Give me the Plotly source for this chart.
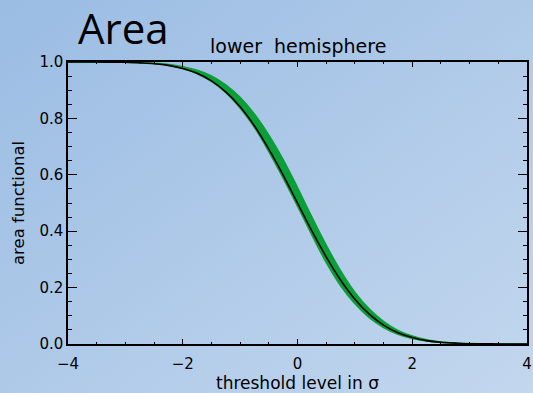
import base64
import plotly.graph_objects as go

# threshold levels (sigma)
x_vals = [-4.0, -3.75, -3.5, -3.25, -3.0, -2.75, -2.5, -2.25, -2.0, -1.75, -1.5, -1.25,
          -1.0, -0.75, -0.5, -0.25, 0.0, 0.25, 0.5, 0.75, 1.0, 1.25, 1.5, 1.75,
          2.0, 2.25, 2.5, 2.75, 3.0, 3.25, 3.5, 3.75, 4.0]
# black curve (theory)
black_y = [1.000, 1.000, 1.000, 0.999, 0.999, 0.997, 0.994, 0.988, 0.977, 0.960, 0.933, 0.894,
           0.841, 0.773, 0.691, 0.599, 0.500, 0.401, 0.309, 0.227, 0.159, 0.106, 0.067, 0.040,
           0.023, 0.012, 0.006, 0.003, 0.001, 0.001, 0.000, 0.000, 0.000]
# green band (simulations) upper / lower edges
green_hi = [1.000, 1.000, 1.000, 1.000, 0.999, 0.998, 0.996, 0.992, 0.984, 0.971, 0.951, 0.919,
            0.875, 0.816, 0.742, 0.655, 0.556, 0.452, 0.352, 0.261, 0.184, 0.125, 0.081, 0.049,
            0.029, 0.016, 0.008, 0.004, 0.002, 0.001, 0.000, 0.000, 0.000]
green_lo = [1.000, 1.000, 1.000, 0.999, 0.999, 0.997, 0.994, 0.988, 0.976, 0.958, 0.931, 0.891,
            0.836, 0.767, 0.681, 0.587, 0.488, 0.386, 0.288, 0.206, 0.142, 0.093, 0.058, 0.034,
            0.019, 0.010, 0.005, 0.002, 0.001, 0.000, 0.000, 0.000, 0.000]

x_ticks = [-4, -2, 0, 2, 4]
y_ticks = [0.0, 0.2, 0.4, 0.6, 0.8, 1.0]

W, H = 533, 393
L, R, T, B = 68, 6, 62, 49
pw, ph = W - L - R, H - T - B

svg = f'''<svg xmlns="http://www.w3.org/2000/svg" width="{W}" height="{H}">
<defs><linearGradient id="g" x1="0" y1="0" x2="1" y2="1">
<stop offset="0" stop-color="#9abce3"/><stop offset="1" stop-color="#c3d7ee"/>
</linearGradient></defs><rect width="{W}" height="{H}" fill="url(#g)"/></svg>'''
src = "data:image/svg+xml;base64," + base64.b64encode(svg.encode()).decode()

fig = go.Figure()
green = "#0c9e38"
fig.add_trace(go.Scatter(x=x_vals, y=green_lo, mode="lines", line=dict(color=green, width=1.2, shape="spline"),
                         showlegend=False, hoverinfo="skip"))
fig.add_trace(go.Scatter(x=x_vals, y=green_hi, mode="lines", line=dict(color=green, width=1.2, shape="spline"),
                         fill="tonexty", fillcolor=green, showlegend=False, hoverinfo="skip"))
fig.add_trace(go.Scatter(x=x_vals, y=black_y, mode="lines", line=dict(color="black", width=1.6, shape="spline"),
                         showlegend=False, hoverinfo="skip"))

font = "DejaVu Sans"
fig.update_layout(
    width=W, height=H,
    margin=dict(l=L, r=R, t=T, b=B),
    paper_bgcolor="#aecae8",
    plot_bgcolor="rgba(0,0,0,0)",
    font=dict(family=font, color="black", size=15),
    images=[dict(source=src, xref="paper", yref="paper",
                 x=-L / pw, y=1 + T / ph, sizex=W / pw, sizey=H / ph,
                 sizing="stretch", layer="below", xanchor="left", yanchor="top")],
    xaxis=dict(range=[-4, 4], tickvals=x_ticks, ticktext=["\u22124", "\u22122", "0", "2", "4"],
               ticks="inside", ticklen=5, tickwidth=1.2, tickcolor="black",
               minor=dict(dtick=0.5, tick0=0, ticks="inside", ticklen=2.5, tickcolor="black", tickwidth=1.2),
               showline=True, linecolor="black", linewidth=1.5, mirror="allticks",
               showgrid=False, zeroline=False, tickfont=dict(size=15), automargin=False,
               ticklabelstandoff=5),
    yaxis=dict(range=[0, 1.0], tickvals=y_ticks, ticktext=["0.0", "0.2", "0.4", "0.6", "0.8", "1.0"],
               ticks="inside", ticklen=9, tickwidth=1.2, tickcolor="black",
               minor=dict(dtick=0.05, tick0=0, ticks="inside", ticklen=4.5, tickcolor="black", tickwidth=1.2),
               showline=True, linecolor="black", linewidth=1.5, mirror="allticks",
               showgrid=False, zeroline=False, tickfont=dict(size=15), automargin=False),
    annotations=[
        dict(text="Area", xref="paper", yref="paper", x=(76 - L) / pw, y=(H - B - 28) / ph,
             xanchor="left", yanchor="middle", showarrow=False,
             font=dict(family="Open Sans", size=42, color="black")),
        dict(text="lower  hemisphere", xref="paper", yref="paper", x=0.5, y=(H - B - 46) / ph,
             xanchor="center", yanchor="middle", showarrow=False, font=dict(family=font, size=19)),
        dict(text="threshold level in \u03c3", xref="paper", yref="paper", x=0.5, y=(H - B - 383) / ph,
             xanchor="center", yanchor="middle", showarrow=False, font=dict(family=font, size=17)),
        dict(text="area functional", xref="paper", yref="paper", x=(18 - L) / pw, y=0.5,
             xanchor="center", yanchor="middle", textangle=-90, showarrow=False,
             font=dict(family=font, size=16.5)),
    ],
)

fig.write_html("out.html")
